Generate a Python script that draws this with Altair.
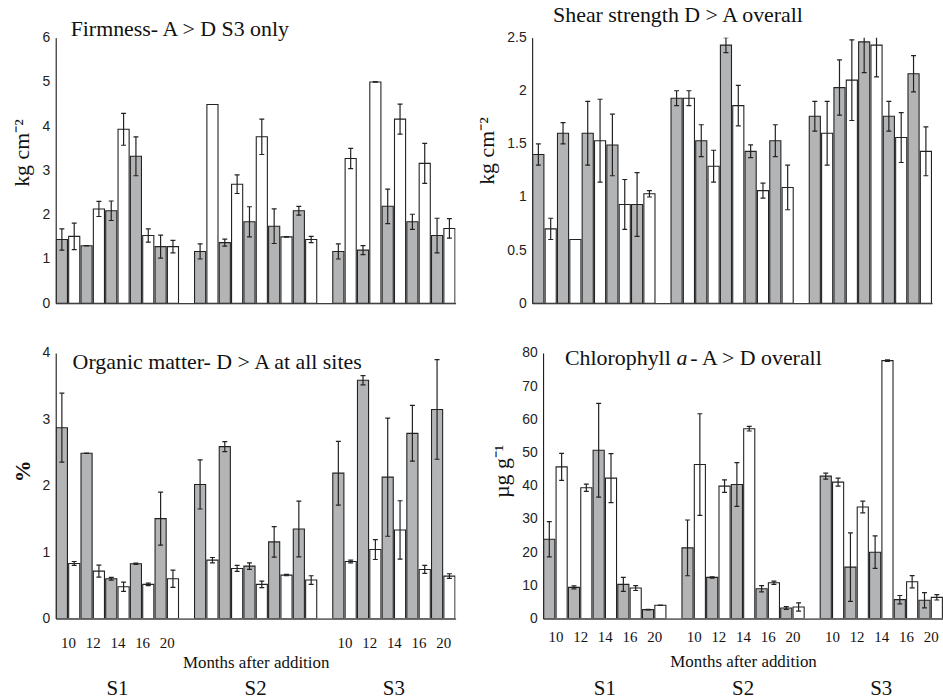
import altair as alt
import pandas as pd

sites = ["S1", "S2", "S3"]
months = ["10", "12", "14", "16", "20"]
treatments = ["D", "A"]  # D = grey bars, A = white bars

# ---- Firmness (kg cm-2) ----
firm_D = [1.44, 1.30, 2.09, 3.32, 1.28, 1.17, 1.37, 1.84, 1.74, 2.09, 1.17, 1.20, 2.19, 1.84, 1.53]
firm_D_err = [0.24, 0.0, 0.22, 0.44, 0.26, 0.17, 0.08, 0.34, 0.39, 0.10, 0.17, 0.10, 0.39, 0.17, 0.39]
firm_A = [1.51, 2.13, 3.93, 1.53, 1.28, 4.49, 2.69, 3.76, 1.50, 1.44, 3.27, 5.00, 4.16, 3.16, 1.69]
firm_A_err = [0.30, 0.17, 0.36, 0.15, 0.14, 0.0, 0.21, 0.40, 0.0, 0.07, 0.23, 0.0, 0.34, 0.45, 0.22]

# ---- Shear strength (kg cm-2) ----
shear_D = [1.40, 1.60, 1.60, 1.49, 0.93, 1.93, 1.53, 2.43, 1.43, 1.53, 1.76, 2.03, 2.46, 1.76, 2.16]
shear_D_err = [0.10, 0.10, 0.30, 0.29, 0.30, 0.07, 0.15, 0.07, 0.06, 0.15, 0.14, 0.26, 0.29, 0.14, 0.17]
shear_A = [0.70, 0.60, 1.53, 0.93, 1.03, 1.93, 1.29, 1.86, 1.06, 1.09, 1.60, 2.10, 2.43, 1.56, 1.43]
shear_A_err = [0.10, 0.0, 0.39, 0.235, 0.03, 0.07, 0.15, 0.19, 0.07, 0.21, 0.30, 0.38, 0.30, 0.235, 0.23]

# ---- Organic matter (%) ----
org_D = [2.875, 2.49, 0.60, 0.825, 1.505, 2.02, 2.59, 0.79, 1.155, 1.35, 2.19, 3.59, 2.13, 2.79, 3.15]
org_D_err = [0.52, 0.0, 0.02, 0.01, 0.40, 0.37, 0.075, 0.05, 0.23, 0.42, 0.48, 0.07, 0.89, 0.42, 0.75]
org_A = [0.83, 0.715, 0.48, 0.515, 0.60, 0.88, 0.755, 0.515, 0.655, 0.58, 0.86, 1.04, 1.335, 0.74, 0.64]
org_A_err = [0.03, 0.09, 0.07, 0.02, 0.13, 0.04, 0.045, 0.05, 0.01, 0.065, 0.02, 0.15, 0.44, 0.06, 0.035]

# ---- Chlorophyll a (ug g-1) ----
chl_D = [23.9, 9.4, 50.7, 10.3, 2.7, 21.3, 12.4, 40.4, 9.0, 3.2, 42.9, 15.5, 20.0, 5.7, 5.5]
chl_D_err = [5.3, 0.45, 14.1, 2.1, 0.1, 8.4, 0.2, 6.6, 0.95, 0.4, 0.9, 10.3, 4.9, 1.25, 2.3]
chl_A = [45.7, 39.4, 42.3, 9.2, 4.0, 46.4, 39.9, 57.2, 10.8, 3.5, 41.1, 33.6, 77.7, 11.1, 6.4]
chl_A_err = [4.05, 1.1, 7.4, 0.75, 0.0, 15.3, 1.9, 0.7, 0.5, 1.25, 1.2, 1.75, 0.2, 1.85, 0.8]

GAP = 1.2
STEP = 10 + GAP
XMAX = 3 * 10 + 2 * GAP
W, H = 402, 267
SERIF = "Liberation Serif"
SANS = "Liberation Sans"


def build_df(d, de, a, ae):
    rows = []
    for si, s in enumerate(sites):
        for mi, m in enumerate(months):
            k = si * 5 + mi
            for ti, (vals, errs) in enumerate([(d, de), (a, ae)]):
                rows.append(dict(site=s, site_i=si, month=m, month_i=mi,
                                 treat=treatments[ti], treat_i=ti,
                                 value=vals[k], err=errs[k]))
    return pd.DataFrame(rows)


def panel(df, ymax, ystep, ytitle, titles, label_sites, bottom, title_bold=False,
          ylab_pad=6, ytitle_pad=8, ytitle_dy=-18, xlab_pad=14, xtitle_pad=4):
    xscale = alt.Scale(domain=[0, XMAX], nice=False, zero=False)
    if bottom:
        vals = [si * STEP + mi * 2 + 1 for si in label_sites for mi in range(len(months))]
        xaxis = alt.Axis(values=vals, ticks=False, grid=False, domainColor="black",
                         labelExpr="['10','12','14','16','20'][round(((datum.value % " + str(STEP) + ") - 1) / 2)]",
                         labelFont=SERIF, labelFontSize=15, labelColor="#111",
                         labelPadding=xlab_pad, labelFlush=False,
                         title="Months after addition", titleFont=SERIF,
                         titleFontSize=17, titleFontWeight="normal", titleColor="#111",
                         titlePadding=xtitle_pad)
    else:
        xaxis = alt.Axis(labels=False, ticks=False, grid=False, domainColor="black", title=None)

    yvals = []
    v = 0.0
    while v <= ymax + 1e-9:
        yvals.append(round(v, 6))
        v += ystep
    yscale = alt.Scale(domain=[0, ymax], nice=False)
    yaxis = alt.Axis(values=yvals, labelExpr="'' + datum.value", ticks=False, grid=False,
                     domainColor="black",
                     labelFont=SANS, labelFontSize=14, labelColor="#222", labelPadding=ylab_pad,
                     title=ytitle, titleFont=SERIF, titleFontSize=22,
                     titleFontWeight="bold" if title_bold else "normal", titleColor="#111",
                     titlePadding=ytitle_pad, titleY=H / 2 + ytitle_dy)

    def X(field):
        return alt.X(field, type="quantitative", scale=xscale, axis=xaxis)

    def Y(field):
        return alt.Y(field, type="quantitative", scale=yscale, axis=yaxis)

    base = alt.Chart(df).transform_calculate(
        pos=f"datum.site_i * {STEP} + datum.month_i * 2 + datum.treat_i + 0.5",
        xa="datum.pos - 0.45",
        xb="datum.pos + 0.45",
        lo="datum.value - datum.err",
        hi="datum.value + datum.err",
        cl="datum.pos - 0.2",
        cr="datum.pos + 0.2",
    )

    bars = base.mark_bar(stroke="#222", strokeWidth=1.1, clip=True).encode(
        x=X("xa"), x2="xb", y=Y("value"), y2=alt.datum(0),
        fill=alt.Fill("treat:N", scale=alt.Scale(domain=["D", "A"], range=["#b3b4b6", "#ffffff"]),
                      legend=None),
    )
    stem = base.mark_rule(color="#222", strokeWidth=1.2, clip=True).encode(
        x=X("pos"), y=Y("lo"), y2="hi")
    cap_hi = base.mark_rule(color="#222", strokeWidth=1.2, clip=True).encode(
        x=X("cl"), x2="cr", y=Y("hi"))
    cap_lo = base.mark_rule(color="#222", strokeWidth=1.2, clip=True).encode(
        x=X("cl"), x2="cr", y=Y("lo"))

    layers = [bars, stem, cap_hi, cap_lo]

    for (txt, tx, ty, italic) in titles:
        t = alt.Chart(pd.DataFrame({"t": [txt]})).mark_text(
            font=SERIF, fontSize=22, align="left", baseline="alphabetic", color="#111",
            fontStyle="italic" if italic else "normal"
        ).encode(x=alt.value(tx), y=alt.value(ty), text="t:N")
        layers.append(t)

    if bottom:
        sdf = pd.DataFrame({"site": sites, "site_i": list(range(len(sites)))})
        slab = alt.Chart(sdf).transform_calculate(
            sc=f"datum.site_i * {STEP} + 5"
        ).mark_text(font=SERIF, fontSize=21, baseline="alphabetic", color="#111").encode(
            x=X("sc"), y=alt.value(H + 77), text="site:N")
        layers.append(slab)

    return alt.layer(*layers).properties(width=W, height=H)


p1 = panel(build_df(firm_D, firm_D_err, firm_A, firm_A_err), 6, 1, "kg cm⁻²",
           [("Firmness- A > D S3 only", 15, -2, False)], [], False,
           ylab_pad=6, ytitle_pad=9, ytitle_dy=-18)
p2 = panel(build_df(shear_D, shear_D_err, shear_A, shear_A_err), 2.5, 0.5, "kg cm⁻²",
           [("Shear strength D > A overall", 21, -16, False)], [], False,
           ytitle_dy=-20)
p3 = panel(build_df(org_D, org_D_err, org_A, org_A_err), 4, 1, "%",
           [("Organic matter- D > A at all sites", 17, 16, False)], [0, 2], True,
           title_bold=True, ytitle_dy=-15, xlab_pad=17)
p4 = panel(build_df(chl_D, chl_D_err, chl_A, chl_A_err), 80, 10, "µg g⁻¹",
           [("Chlorophyll", 22, 12, False), ("a", 134, 12, True), ("- A > D overall", 148, 12, False)],
           [0, 1, 2], True, ytitle_dy=-15, xlab_pad=11, xtitle_pad=9)

top = alt.hconcat(p1, p2, spacing=20)
bot = alt.hconcat(p3, p4, spacing=35)
chart = alt.vconcat(top, bot, spacing=36).properties(
    padding={"left": 10, "top": 2, "right": 0, "bottom": 0}
).configure_view(stroke=None)

chart.save("out.html", embed_options={"renderer": "svg", "actions": False})
